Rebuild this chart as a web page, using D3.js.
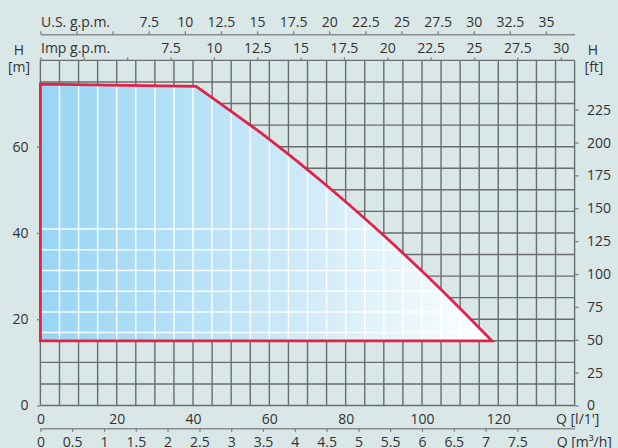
<!DOCTYPE html>
<html>
<head>
<meta charset="utf-8">
<script src="https://cdn.jsdelivr.net/npm/d3@7.9.0/dist/d3.min.js"></script>
<style>
  html, body { margin: 0; padding: 0; background: #d9e7e7; }
  svg { display: block; font-family: "Open Sans", sans-serif; }
  .axis text { font-size: 14px; fill: #333; font-family: "Open Sans", sans-serif; }
  .lbl { font-size: 14px; fill: #333; }
</style>
</head>
<body>
<svg width="618" height="448"></svg>
<script>
// upper limit of the pump envelope, flow in l/min, head in m
const envelope = [
  { q: 0, h: 74.5 },
  { q: 40.8, h: 74.0 },
  { q: 60, h: 61.7 },
  { q: 75, h: 51.0 },
  { q: 90, h: 39.4 },
  { q: 101, h: 30.3 },
  { q: 110, h: 22.5 },
  { q: 118.3, h: 15 }
];
// lower limit of the envelope (m)
const minHead = 15;

// tick values for every axis
const flowTicks = [0, 20, 40, 60, 80, 100, 120];
const m3hTicks = [0, 0.5, 1, 1.5, 2, 2.5, 3, 3.5, 4, 4.5, 5, 5.5, 6, 6.5, 7, 7.5];
const usGpmTicks = [0, 2.5, 5, 7.5, 10, 12.5, 15, 17.5, 20, 22.5, 25, 27.5, 30, 32.5, 35];
const impGpmTicks = [0, 2.5, 5, 7.5, 10, 12.5, 15, 17.5, 20, 22.5, 25, 27.5, 30];
const headMTicks = [0, 20, 40, 60];
const headFtTicks = [0, 25, 50, 75, 100, 125, 150, 175, 200, 225];

// grid, l/min columns and m rows
const gridCols = [0, 5, 10, 15, 20, 25, 30, 35, 40, 45, 50, 55, 60, 65, 70, 75, 80, 85, 90, 95, 100, 105, 110, 115, 120, 125, 130, 135, 140];
const gridRows = [0, 5, 10, 15, 20, 25, 30, 35, 40, 45, 50, 55, 60, 65, 70, 75, 80];
// white rows drawn inside the envelope (m)
const whiteRows = [16.9, 21.7, 26.5, 31.3, 36.1, 40.9];

const svg = d3.select('svg');
const fmt = d => String(d);

const qMax = 140, hMax = 80;
const x = d3.scaleLinear().domain([0, qMax]).range([40.4, 574.6]);
const y = d3.scaleLinear().domain([0, hMax]).range([405.5, 60.4]);
const xUS = d3.scaleLinear().domain([0, qMax / 3.78541]).range(x.range());
const xImp = d3.scaleLinear().domain([0, qMax / 4.54609]).range(x.range());
const xM3 = d3.scaleLinear().domain([0, qMax * 60 / 1000]).range(x.range());
const yFt = d3.scaleLinear().domain([0, hMax * 3.28084]).range(y.range());

svg.append('rect').attr('width', 618).attr('height', 448).attr('fill', '#d9e7e7');

// dark grid
const grid = svg.append('g').attr('stroke', '#696d6d').attr('stroke-width', 1.4);
grid.selectAll('.gc').data(gridCols).join('line')
  .attr('x1', d => x(d)).attr('x2', d => x(d))
  .attr('y1', y(0)).attr('y2', y(hMax));
grid.selectAll('.gr').data(gridRows).join('line')
  .attr('x1', x(0)).attr('x2', x(qMax))
  .attr('y1', d => y(d)).attr('y2', d => y(d));

// gradient fill of envelope
const defs = svg.append('defs');
const grad = defs.append('linearGradient').attr('id', 'fillGrad')
  .attr('gradientUnits', 'userSpaceOnUse')
  .attr('x1', x(0)).attr('x2', x(118.3)).attr('y1', 0).attr('y2', 0);
grad.append('stop').attr('offset', 0).attr('stop-color', '#98d5f4');
grad.append('stop').attr('offset', 0.55).attr('stop-color', '#cbe9f8');
grad.append('stop').attr('offset', 1).attr('stop-color', '#ffffff');

// flat top is straight, the falling part is smoothed
const curve = d3.line().x(d => x(d.q)).y(d => y(d.h)).curve(d3.curveCatmullRom.alpha(0.5));
const start = envelope[0];
const envPath = `M${x(start.q)},${y(start.h)}` +
  curve(envelope.slice(1)).replace(/^M/, 'L') +
  `L${x(0)},${y(minHead)}Z`;

defs.append('clipPath').attr('id', 'envClip')
  .append('path').attr('d', envPath);

svg.append('path').attr('d', envPath).attr('fill', 'url(#fillGrad)');

// white grid inside the envelope
const wg = svg.append('g').attr('clip-path', 'url(#envClip)')
  .attr('stroke', '#ffffff').attr('stroke-width', 1.5).attr('stroke-opacity', 0.9);
wg.selectAll('.wc').data(gridCols).join('line')
  .attr('x1', d => x(d)).attr('x2', d => x(d))
  .attr('y1', y(0)).attr('y2', y(hMax));
wg.selectAll('.wr').data(whiteRows).join('line')
  .attr('x1', x(0)).attr('x2', x(qMax))
  .attr('y1', d => y(d)).attr('y2', d => y(d));

// red outline
svg.append('path').attr('d', envPath)
  .attr('fill', 'none').attr('stroke', '#e3224a').attr('stroke-width', 2.8)
  .attr('stroke-linejoin', 'miter');

function styleAxis(g, keepDomain) {
  g.selectAll('line').attr('stroke', '#7d8181').attr('stroke-width', 1.3);
  if (keepDomain) g.select('.domain').attr('stroke', '#8a8e8e').attr('stroke-width', 1.6);
  else g.select('.domain').remove();
  g.attr('font-size', null).attr('font-family', null);
}

// top axes
svg.append('g').attr('class', 'axis').attr('transform', 'translate(0,34.3)')
  .call(d3.axisTop(xUS).tickValues(usGpmTicks).tickSize(3).tickSizeOuter(0).tickPadding(4.6)
    .tickFormat(d => d >= 7.5 ? fmt(d) : ''))
  .call(g => styleAxis(g, true));
svg.append('g').attr('class', 'axis').attr('transform', 'translate(0,60.4)')
  .call(d3.axisTop(xImp).tickValues(impGpmTicks).tickSize(3).tickSizeOuter(0).tickPadding(4.1)
    .tickFormat(d => d >= 7.5 ? fmt(d) : ''))
  .call(g => styleAxis(g, false));

// left and right head axes
svg.append('g').attr('class', 'axis').attr('transform', 'translate(40.4,0)')
  .call(d3.axisLeft(y).tickValues(headMTicks).tickSize(3.5).tickPadding(8.5).tickFormat(fmt))
  .call(g => styleAxis(g, false));
svg.append('g').attr('class', 'axis').attr('transform', 'translate(574.6,0)')
  .call(d3.axisRight(yFt).tickValues(headFtTicks).tickSize(4).tickPadding(8.4).tickFormat(fmt))
  .call(g => styleAxis(g, false));

// bottom axes
svg.append('g').attr('class', 'axis').attr('transform', 'translate(0,405.5)')
  .call(d3.axisBottom(x).tickValues(flowTicks).tickSize(0).tickPadding(8.5).tickFormat(fmt))
  .call(g => styleAxis(g, false));
svg.append('g').attr('class', 'axis').attr('transform', 'translate(0,428.3)')
  .call(d3.axisBottom(xM3).tickValues(m3hTicks).tickSize(3.5).tickSizeOuter(0).tickPadding(5).tickFormat(fmt))
  .call(g => styleAxis(g, true));

// unit labels
const labels = [
  { t: 'U.S. g.p.m.', x: 41, y: 26.7, a: 'start' },
  { t: 'Imp g.p.m.', x: 41, y: 53.3, a: 'start' },
  { t: 'H', x: 19, y: 55, a: 'middle' },
  { t: '[m]', x: 19, y: 72, a: 'middle' },
  { t: 'H', x: 593, y: 55, a: 'middle' },
  { t: '[ft]', x: 594, y: 72, a: 'middle' },
  { t: "Q [l/1']", x: 556, y: 424, a: 'start' },
  { t: 'Q [m³/h]', x: 556.7, y: 446.7, a: 'start' }
];
svg.selectAll('.lbl').data(labels).join('text')
  .attr('class', 'lbl')
  .attr('x', d => d.x).attr('y', d => d.y)
  .attr('text-anchor', d => d.a)
  .text(d => d.t);
</script>
</body>
</html>
